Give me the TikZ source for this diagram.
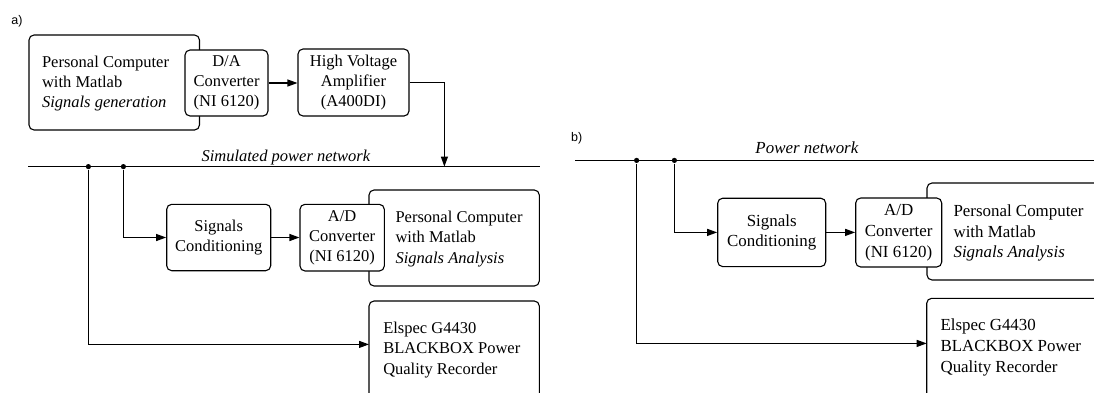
\documentclass[tikz,border=0pt]{standalone}
\usepackage{fontspec}
\setmainfont{Liberation Serif}
\newfontfamily\labelfont{Liberation Sans}
\usetikzlibrary{arrows.meta}
\begin{document}
\begin{tikzpicture}[x=1pt,y=-1pt, line width=1.1pt,
  box/.style={draw, rounded corners=5pt, inner sep=0pt, align=center, fill=white, line width=1.1pt},
  txta/.style={font=\fontsize{16.5}{20.3}\selectfont},
  txtb/.style={font=\fontsize{16.9}{20.8}\selectfont},
  ltext/.style={anchor=west, align=left, inner sep=0pt},
  arr/.style={-{Triangle[length=10pt,width=7pt]}},
  dot/.style={circle, fill, inner sep=0pt, minimum size=5.2pt},
  lbl/.style={font=\labelfont\fontsize{12.5}{15}\selectfont, inner sep=0pt}]
\clip (0,0) rectangle (1094,392);
\fill[white] (0,0) rectangle (1094,392);

% ---------------- panel a ----------------
\node[lbl] (la) at (17,21) {a)};
\node[box, minimum width=170.5pt, minimum height=95pt] (pcg) at (114.25,82.5) {};
\node[txta, ltext] (pcgt) at (41.5,83.5) {Personal Computer\\with Matlab\\\textit{Signals generation}};
\node[box, txta, minimum width=83pt, minimum height=66pt] (da) at (226.5,83) {D/A\\Converter\\(NI 6120)};
\node[box, txta, minimum width=111pt, minimum height=67pt] (hva) at (353.5,82.5) {High Voltage\\Amplifier\\(A400DI)};
\draw[arr] (da.east) -- (da.east -| hva.west);

\coordinate (pl1) at (28,166.6);
\coordinate (pr1) at (539.5,166.6);
\draw (pl1) -- (pr1);
\node[txta, anchor=base, inner sep=0pt] (snet) at (286,161.7) {\textit{Simulated power network}};
\coordinate (pa) at (444.4,166.6);
\draw[arr] (hva.east) -| (pa);

\node[dot] (d1a) at (88.4,166.6) {};
\node[dot] (d2a) at (123.4,166.6) {};

\node[box, txta, minimum width=104pt, minimum height=66.4pt] (sca) at (218.7,237.5) {Signals\\Conditioning};
\node[box, minimum width=170.3pt, minimum height=96pt] (pcaa) at (454.15,238) {};
\node[txta, ltext] (pcaat) at (395,239) {Personal Computer\\with Matlab\\\textit{Signals Analysis}};
\node[box, txta, minimum width=84.3pt, minimum height=66.7pt] (ada) at (342.15,237.65) {A/D\\Converter\\(NI 6120)};
\draw[arr] (d2a) |- (sca.west);
\draw[arr] (sca.east) -- (sca.east -| ada.west);

\node[box, minimum width=170.3pt, minimum height=130pt] (ela) at (454.15,366) {};
\node[txta, ltext] (elat) at (382.7,350) {Elspec G4430\\BLACKBOX Power\\Quality Recorder};
\coordinate (ea) at (369,344.4);
\draw[arr] (d1a) |- (ea);

% ---------------- panel b ----------------
\node[lbl] (lb) at (576.7,138.5) {b)};
\coordinate (pl2) at (575,160.4);
\coordinate (pr2) at (1100,160.4);
\draw (pl2) -- (pr2);
\node[txtb, anchor=base, inner sep=0pt] (pnet) at (807,153.5) {\textit{Power network}};

\node[dot] (d1b) at (636.6,160.4) {};
\node[dot] (d2b) at (674.4,160.4) {};

\node[box, txtb, minimum width=108pt, minimum height=68.4pt] (scb) at (771.7,232.4) {Signals\\Conditioning};
\node[box, minimum width=173pt, minimum height=97pt] (pcab) at (1013.5,231.5) {};
\node[txtb, ltext] (pcabt) at (953,233) {Personal Computer\\with Matlab\\\textit{Signals Analysis}};
\node[box, txtb, minimum width=86pt, minimum height=69pt] (adb) at (898.7,232.5) {A/D\\Converter\\(NI 6120)};
\draw[arr] (d2b) |- (scb.west);
\draw[arr] (scb.east) -- (scb.east -| adb.west);

\node[box, minimum width=173pt, minimum height=130pt] (elb) at (1013.2,363.3) {};
\node[txtb, ltext] (elbt) at (940,347.5) {Elspec G4430\\BLACKBOX Power\\Quality Recorder};
\coordinate (eb) at (926.7,343.4);
\draw[arr] (d1b) |- (eb);
\end{tikzpicture}
\end{document}
